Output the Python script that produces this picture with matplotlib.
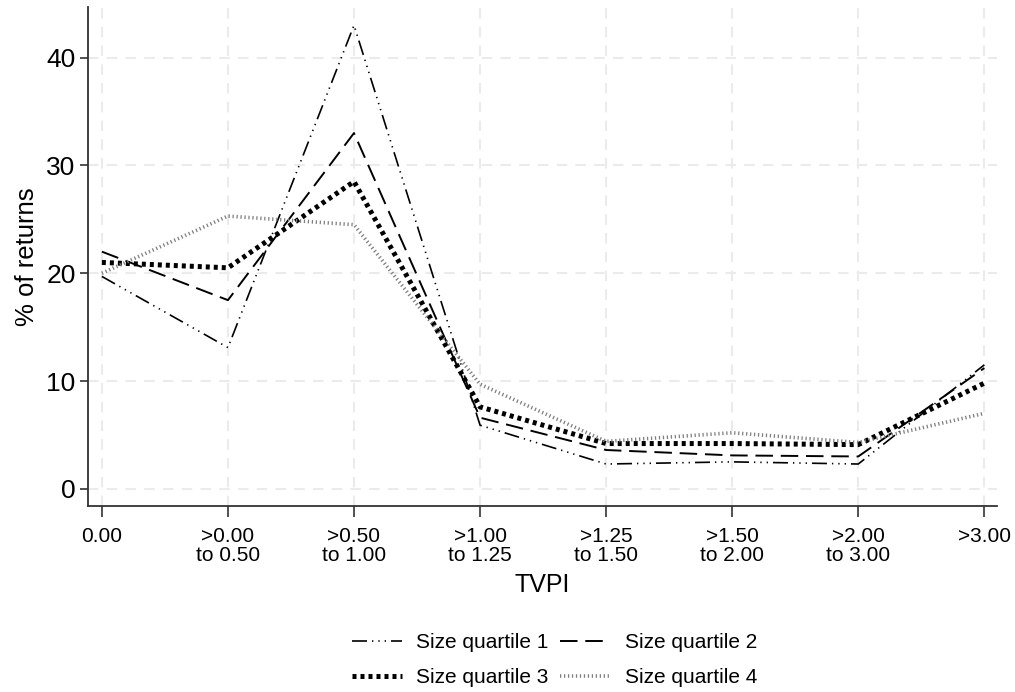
import numpy as np
import matplotlib
matplotlib.use('Agg')
import matplotlib.pyplot as plt

plt.rcParams['font.family'] = ['Liberation Sans', 'DejaVu Sans']

# TVPI buckets
tvpi_labels = ['0.00', '>0.00\nto 0.50', '>0.50\nto 1.00', '>1.00\nto 1.25',
               '>1.25\nto 1.50', '>1.50\nto 2.00', '>2.00\nto 3.00', '>3.00']

# % of returns per size quartile
q1 = [19.7, 13.1, 43.0, 5.9, 2.3, 2.5, 2.3, 11.5]
q2 = [22.0, 17.5, 33.0, 6.6, 3.6, 3.1, 3.0, 11.2]
q3 = [21.0, 20.5, 28.5, 7.6, 4.2, 4.2, 4.1, 9.8]
q4 = [20.0, 25.3, 24.5, 9.7, 4.4, 5.2, 4.3, 7.0]

series_names = ['Size quartile 1', 'Size quartile 2',
                'Size quartile 3', 'Size quartile 4']

x = np.arange(len(tvpi_labels))

fig = plt.figure(figsize=(10.15, 6.92), dpi=100)
ax = fig.add_axes([0.0867, 0.269, 0.8955, 0.721])

# gridlines
grid_kw = dict(color='#ebebeb', linewidth=1.5, linestyle=(0, (5, 4)), zorder=0)
for xv in x:
    ax.axvline(xv, **grid_kw)
for yv in [0, 10, 20, 30, 40]:
    ax.axhline(yv, **grid_kw)

l1, = ax.plot(x, q1, color='black', linewidth=1.2,
              dashes=(9, 3, 0.8, 3, 0.8, 3, 0.8, 3))
l2, = ax.plot(x, q2, color='black', linewidth=1.4, dashes=(9, 4))
l3, = ax.plot(x, q3, color='black', linewidth=3.6, dashes=(0.8, 0.8))
l4, = ax.plot(x, q4, color='#7f7f7f', linewidth=2.6, dashes=(0.35, 0.75))

ax.set_xlim(-0.11, 7.1)
ax.set_ylim(-1.58, 44.7)
ax.set_xticks(x)
ax.set_xticklabels(tvpi_labels, fontsize=15, linespacing=1.0)
ax.set_yticks([0, 10, 20, 30, 40])
ax.set_yticklabels(['0', '10', '20', '30', '40'], fontsize=19)
ax.tick_params(axis='x', length=8, width=1.2, color='#333333', pad=7)
ax.tick_params(axis='y', length=6, width=1.2, color='#333333', pad=3)

ax.spines['top'].set_visible(False)
ax.spines['right'].set_visible(False)
for s in ['left', 'bottom']:
    ax.spines[s].set_linewidth(1.3)
    ax.spines[s].set_color('#333333')

ax.set_xlabel('TVPI', fontsize=18, labelpad=6)
ax.set_ylabel('% of returns', fontsize=18.5, labelpad=5)

# legend fills column-wise, so reorder to get Q1 Q2 / Q3 Q4 rows
fig.legend([l1, l3, l2, l4],
           [series_names[0], series_names[2], series_names[1], series_names[3]],
           loc='upper center', bbox_to_anchor=(0.546, 0.112), ncol=2,
           frameon=False, fontsize=15, handlelength=2.4, handletextpad=0.7,
           columnspacing=0.55, labelspacing=0.75)

fig.savefig('out.png', dpi=100)
